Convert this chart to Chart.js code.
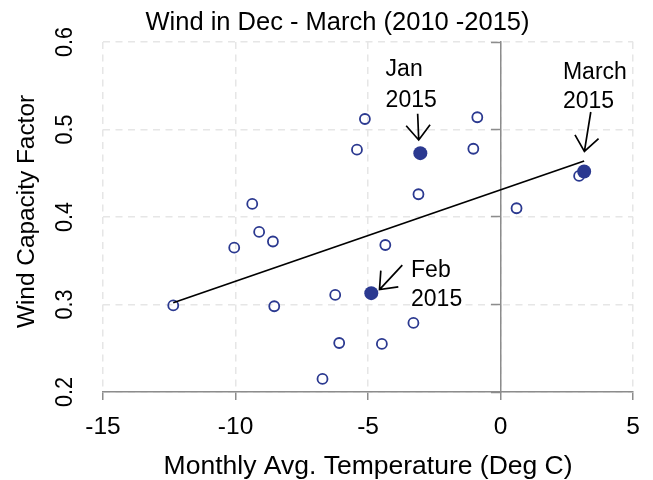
<!DOCTYPE html>
<html>
<head>
<meta charset="utf-8">
<script src="https://cdn.jsdelivr.net/npm/chart.js@4"></script>
<style>
  html, body { margin: 0; padding: 0; background: #fff; }
  #wrap { width: 653px; height: 480px; }
</style>
</head>
<body>
<div id="wrap"><canvas id="windChart" width="653" height="480"></canvas></div>
<script>
// données
const openTemp = [-5.12, -5.42, -9.37, -9.11, -8.59, -10.05, -12.35, -8.54, -6.24, -6.09, -6.72,
                  -0.88, -1.03, -3.10, 0.60, 2.96, -4.35, -3.29, -4.48];
const openCF   = [0.512, 0.477, 0.415, 0.383, 0.372, 0.365, 0.299, 0.298, 0.311, 0.256, 0.215,
                  0.514, 0.478, 0.426, 0.410, 0.447, 0.368, 0.279, 0.255];
const highlightTemp   = [-3.03, -4.88, 3.15];
const highlightCF     = [0.473, 0.313, 0.452];
const highlightLabels = ['Jan 2015', 'Feb 2015', 'March 2015'];
const trendTemp = [-12.35, 3.15];
const trendCF   = [0.302, 0.464];
const xTicks = [-15, -10, -5, 0, 5];
const yTicks = [0.2, 0.3, 0.4, 0.5, 0.6];

const FONT = '"Liberation Sans", Arial, sans-serif';
const NAVY = '#2b3990';
const GRID = '#e6e6e6';
const AXIS = '#8c8c8c';

// flèches et textes (unités des données)
const notes = [
  { label: highlightLabels[0], tx: -4.34, ty: [0.561, 0.526], from: [-3.13, 0.518], to: [-3.09, 0.488] },
  { label: highlightLabels[1], tx: -3.38, ty: [0.331, 0.298], from: [-3.71, 0.345], to: [-4.57, 0.317] },
  { label: highlightLabels[2], tx: 2.35,  ty: [0.558, 0.525], from: [3.40, 0.520],  to: [3.16, 0.475] }
];

const toPts = (xs, ys) => xs.map((v, i) => ({ x: v, y: ys[i] }));
const setTicks = list => s => { s.ticks = list.map(v => ({ value: v })); };

const decor = {
  id: 'decor',
  afterDraw(chart) {
    const { ctx, scales: { x, y } } = chart;
    ctx.save();
    ctx.fillStyle = '#000';
    ctx.textBaseline = 'alphabetic';

    // titre
    ctx.font = '25.5px ' + FONT;
    ctx.textAlign = 'center';
    ctx.fillText('Wind in Dec - March (2010 -2015)', 337.5, 29.5);

    // titre axe Y
    ctx.save();
    ctx.translate(34, 211.5);
    ctx.rotate(-Math.PI / 2);
    ctx.font = '24.4px ' + FONT;
    ctx.fillText('Wind Capacity Factor', 0, 0);
    ctx.restore();

    // étiquettes axe Y (tournées)
    yTicks.forEach(v => {
      ctx.save();
      ctx.translate(72, y.getPixelForValue(v));
      ctx.rotate(-Math.PI / 2);
      ctx.scale(0.88, 1);
      ctx.font = '24.5px ' + FONT;
      ctx.fillText(v.toFixed(1), 0, 0);
      ctx.restore();
    });

    // annotations
    ctx.textAlign = 'left';
    ctx.font = '23px ' + FONT;
    ctx.strokeStyle = '#000';
    ctx.lineWidth = 1.7;
    notes.forEach(n => {
      const lines = n.label.split(' ');
      const px = x.getPixelForValue(n.tx);
      lines.forEach((t, i) => ctx.fillText(t, px, y.getPixelForValue(n.ty[i])));
      const x1 = x.getPixelForValue(n.from[0]), y1 = y.getPixelForValue(n.from[1]);
      const x2 = x.getPixelForValue(n.to[0]),   y2 = y.getPixelForValue(n.to[1]);
      const a = Math.atan2(y2 - y1, x2 - x1);
      const len = 19, spread = 0.68;
      ctx.beginPath();
      ctx.moveTo(x1, y1);
      ctx.lineTo(x2, y2);
      ctx.moveTo(x2 - len * Math.cos(a - spread), y2 - len * Math.sin(a - spread));
      ctx.lineTo(x2, y2);
      ctx.lineTo(x2 - len * Math.cos(a + spread), y2 - len * Math.sin(a + spread));
      ctx.stroke();
    });
    ctx.restore();
  }
};

new Chart(document.getElementById('windChart'), {
  type: 'scatter',
  data: {
    datasets: [
      {
        label: '2015',
        data: toPts(highlightTemp, highlightCF),
        pointRadius: 7,
        pointBorderWidth: 0,
        backgroundColor: NAVY,
        borderColor: NAVY
      },
      {
        label: 'trend',
        data: toPts(trendTemp, trendCF),
        showLine: true,
        borderColor: '#000',
        borderWidth: 1.8,
        pointRadius: 0
      },
      {
        label: 'months',
        data: toPts(openTemp, openCF),
        pointRadius: 5,
        pointBorderWidth: 1.8,
        borderColor: NAVY,
        backgroundColor: 'rgba(0,0,0,0)'
      }
    ]
  },
  options: {
    responsive: false,
    animation: false,
    events: [],
    layout: { padding: { left: 0, right: 17.3, top: 42, bottom: 0 } },
    plugins: {
      legend: { display: false },
      tooltip: { enabled: false }
    },
    scales: {
      x: {
        type: 'linear',
        position: 'bottom',
        min: -15,
        max: 5,
        afterBuildTicks: setTicks(xTicks),
        afterFit: s => { s.height = 88; },
        grid: { color: GRID, lineWidth: 1.5, drawTicks: true, tickLength: 8, tickColor: AXIS, tickWidth: 1.5 },
        border: { display: true, color: AXIS, width: 1.5, dash: [7, 5.5] },
        ticks: { color: '#000', padding: 13, font: { family: FONT, size: 24.5 }, maxRotation: 0 },
        title: {
          display: true,
          text: 'Monthly Avg. Temperature (Deg C)',
          color: '#000',
          font: { family: FONT, size: 26.5, lineHeight: 1 },
          padding: { top: 0, bottom: 0 }
        }
      },
      y: {
        type: 'linear',
        position: 'left',
        min: 0.2,
        max: 0.6,
        afterBuildTicks: setTicks(yTicks),
        afterFit: s => { s.width = 103; },
        grid: { color: GRID, lineWidth: 1.5, drawTicks: false },
        border: { display: false, dash: [7, 5.5] },
        ticks: { display: false }
      },
      yZero: {
        type: 'linear',
        position: { x: 0 },
        min: 0.2,
        max: 0.6,
        afterBuildTicks: setTicks(yTicks),
        grid: { drawOnChartArea: false, drawTicks: true, tickLength: 9, tickColor: AXIS, tickWidth: 1.5 },
        border: { display: true, color: AXIS, width: 1.5 },
        ticks: { display: false }
      }
    }
  },
  plugins: [decor]
});
</script>
</body>
</html>
